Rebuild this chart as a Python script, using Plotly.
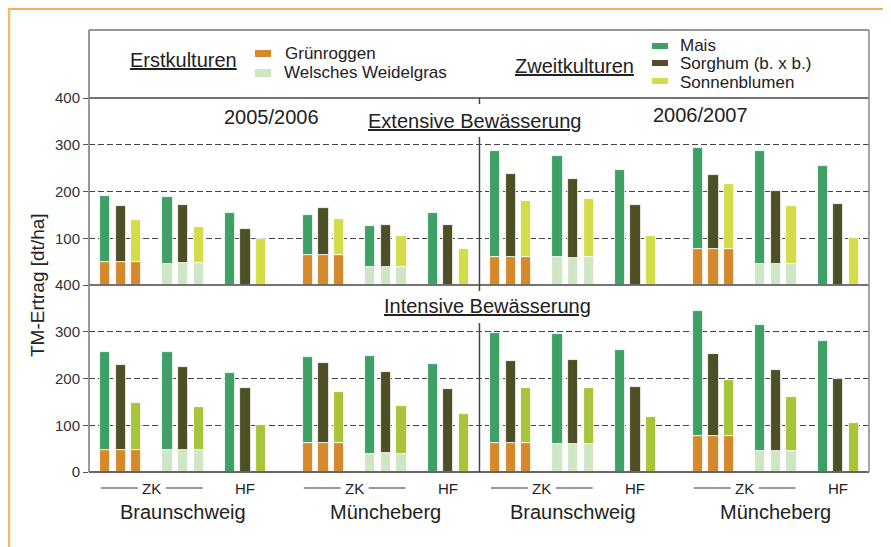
import plotly.graph_objects as go

# Erstkulturen (Ertrag, dt/ha) - Reihenfolge: 05/06 BS, 05/06 MB, 06/07 BS, 06/07 MB; je Mais, Sorghum, Sonnenblumen
ext_gruenroggen = [49, 49, 49, 64, 64, 64, 59, 59, 59, 76, 76, 76]
ext_weidelgras = [46, 47, 47, 38, 39, 39, 59, 58, 59, 46, 46, 46]
int_gruenroggen = [48, 48, 48, 63, 63, 63, 61, 61, 61, 77, 77, 77]
int_weidelgras = [48, 48, 48, 39, 40, 39, 59, 59, 59, 46, 46, 46]

# Gesamtertrag nach Zweitkultur (Oberkante Balken)
ext_total_gr = [191, 168, 138, 149, 164, 142, 286, 238, 179, 294, 236, 215]
ext_total_ww = [189, 172, 125, 127, 129, 104, 277, 227, 183, 286, 202, 168]
ext_total_hf = [153, 119, 99, 155, 129, 77, 246, 172, 104, 254, 174, 101]
int_total_gr = [256, 229, 147, 246, 233, 171, 297, 237, 179, 344, 252, 197]
int_total_ww = [256, 224, 139, 248, 214, 141, 295, 239, 179, 314, 219, 160]
int_total_hf = [211, 179, 100, 231, 177, 125, 261, 181, 117, 280, 199, 104]

orte = ["Braunschweig", "Müncheberg", "Braunschweig", "Müncheberg"]
jahre = ["2005/2006", "2006/2007"]
ytick_unten = [0, 100, 200, 300, 400]
ytick_oben = [100, 200, 300, 400]

c_gr = "#d3892c"
c_ww = "#cfe6c6"
c_mais = "#3fa066"
c_sorg = "#4d5024"
c_sonn_ext = "#d4dc4a"
c_sonn_int = "#a8c43a"

ort_offset = [0, 13, 25, 38]
grp_offset = {"GR": 0, "WW": 4, "HF": 8}
bw = 0.66


def xpos(grp):
    return [o + grp_offset[grp] + k for o in ort_offset for k in range(3)]


# page pixel -> paper coords (plot area 89..869 x 98..472 on the page)
def px(x):
    return (x - 89) / 780


def py(y):
    return (472 - y) / 374


fig = go.Figure()

panels = [
    ("y2", ext_gruenroggen, ext_weidelgras, ext_total_gr, ext_total_ww, ext_total_hf, c_sonn_ext),
    ("y", int_gruenroggen, int_weidelgras, int_total_gr, int_total_ww, int_total_hf, c_sonn_int),
]
for yax, gr, ww, tgr, tww, thf, c_sonn in panels:
    cols = [c_mais, c_sorg, c_sonn] * 4
    line = dict(color="white", width=0.8)
    fig.add_trace(go.Bar(x=xpos("GR"), y=gr, yaxis=yax, width=bw,
                         marker=dict(color=c_gr, line=line), showlegend=False))
    fig.add_trace(go.Bar(x=xpos("GR"), y=[t - b for t, b in zip(tgr, gr)], base=gr, yaxis=yax, width=bw,
                         marker=dict(color=cols, line=line), showlegend=False))
    fig.add_trace(go.Bar(x=xpos("WW"), y=ww, yaxis=yax, width=bw,
                         marker=dict(color=c_ww, line=line), showlegend=False))
    fig.add_trace(go.Bar(x=xpos("WW"), y=[t - b for t, b in zip(tww, ww)], base=ww, yaxis=yax, width=bw,
                         marker=dict(color=cols, line=line), showlegend=False))
    fig.add_trace(go.Bar(x=xpos("HF"), y=thf, yaxis=yax, width=bw,
                         marker=dict(color=cols, line=line), showlegend=False))

font = "Liberation Sans, Arial, sans-serif"
txt = "#222"
shapes = []
ann = []


def hline(y, x0, x1, color="#444", w=1.5):
    shapes.append(dict(type="line", xref="paper", yref="paper", x0=px(x0), x1=px(x1),
                       y0=py(y), y1=py(y), line=dict(color=color, width=w)))


def vline(x, y0, y1, color="#444", w=1.5):
    shapes.append(dict(type="line", xref="paper", yref="paper", x0=px(x), x1=px(x),
                       y0=py(y0), y1=py(y1), line=dict(color=color, width=w)))


def text(s, x, y, size, xanchor="center", under=False, xref="paper"):
    f = dict(family=font, size=size, color=txt)
    if under:
        f["lineposition"] = "under"
    ann.append(dict(text=s, xref=xref, yref="paper", x=px(x) if xref == "paper" else x, y=py(y),
                    showarrow=False, xanchor=xanchor, yanchor="middle", font=f))


def square(x0, y0, x1, y1, color):
    shapes.append(dict(type="rect", xref="paper", yref="paper", x0=px(x0), x1=px(x1),
                       y0=py(y0), y1=py(y1), fillcolor=color, line=dict(width=0)))


# frame (page body margin keeps it at the figure's edge)
hline(9, 8, 891, "#f5b055", 2)
vline(9, 8, 547, "#f7b86a", 2.5)

hline(30, 89, 869, "#333", 1.2)
hline(98, 89, 869, "#444", 1.5)
hline(285, 89, 869, "#444", 1.5)
hline(472, 89, 869, "#666", 2)
vline(89, 30, 472, "#777", 1.5)
vline(869, 30, 472, "#888", 1.5)

# season divider
for y0, y1 in [(98, 104), (137, 285), (285, 291), (323, 472)]:
    shapes.append(dict(type="line", xref="x", yref="paper", x0=24, x1=24, y0=py(y0), y1=py(y1),
                       line=dict(color="#444", width=1.5)))

# legend
text("Erstkulturen", 183, 60, 20, under=True)
square(255, 50, 271, 57, c_gr)
square(255, 69, 271, 77, c_ww)
text("Grünroggen", 283, 54, 17, "left")
text("Welsches Weidelgras", 282, 73, 17, "left")
text("Zweitkulturen", 574, 66, 20, under=True)
square(652, 43, 668, 49, c_mais)
square(652, 60, 668, 66, c_sorg)
square(652, 78, 668, 84, c_sonn_ext)
text("Mais", 678, 45, 17, "left")
text("Sorghum (b. x b.)", 678, 63, 17, "left")
text("Sonnenblumen", 678, 82, 17, "left")

# panel titles
text(jahre[0], 271, 117, 20)
text(jahre[1], 700, 115, 20)
text("Extensive Bewässerung", 474, 121, 20, under=True)
text("Intensive Bewässerung", 487, 306, 20, under=True)

# category labels
for i, o in enumerate(ort_offset):
    c = o + 3
    text("ZK", c, 488, 15, xref="x")
    for a, b in [(-3.26, -0.9), (0.9, 3.26)]:
        shapes.append(dict(type="line", xref="x", yref="paper", x0=c + a, x1=c + b, y0=py(488), y1=py(488),
                           line=dict(color="#333", width=1.2)))
    text("HF", o + 9, 488, 15, xref="x")
    text(orte[i], o + 5, 512, 20, xref="x")

ann.append(dict(text="TM-Ertrag [dt/ha]", xref="paper", yref="paper", x=px(37), y=py(285), showarrow=False,
                xanchor="center", yanchor="middle", textangle=-90, font=dict(family=font, size=19, color=txt)))

yax_common = dict(range=[0, 400], showgrid=True, gridcolor="#444", griddash="6px,3px", gridwidth=1,
                  zeroline=False, showline=False, ticks="outside", ticklen=5, tickcolor="#555",
                  tickfont=dict(family=font, size=15, color="#333"))

# the page has an 8px body margin, so the figure is 8px smaller than the window
fig.update_layout(
    width=883, height=539, autosize=False,
    margin=dict(l=81, r=22, t=90, b=75),
    paper_bgcolor="white", plot_bgcolor="white",
    barmode="overlay", bargap=0,
    xaxis=dict(range=[-1.03, 48.97], showticklabels=False, showgrid=False, zeroline=False,
               showline=False, ticks=""),
    yaxis=dict(domain=[0, 0.5], tickvals=ytick_unten, **yax_common),
    yaxis2=dict(domain=[0.5, 1], tickvals=ytick_oben, anchor="x", **yax_common),
    shapes=shapes, annotations=ann,
)

fig.write_html("out.html")
